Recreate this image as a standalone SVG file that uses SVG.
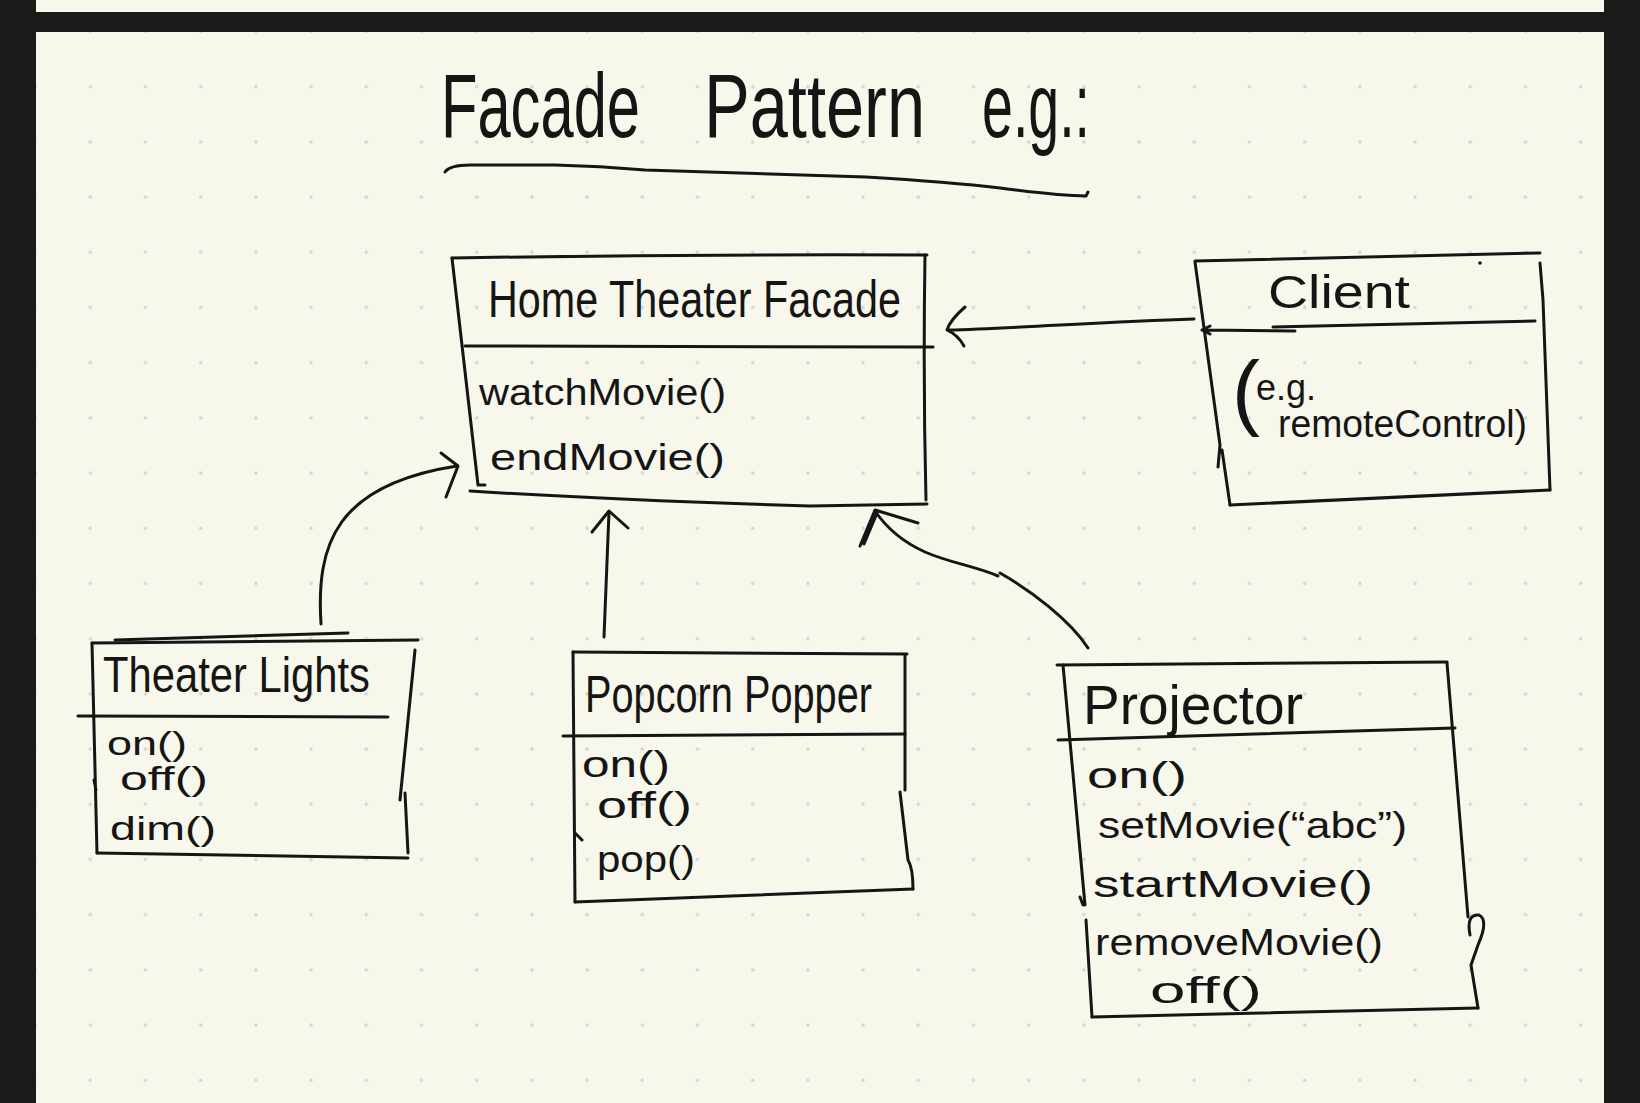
<svg xmlns="http://www.w3.org/2000/svg" width="1640" height="1103" viewBox="0 0 1640 1103">
<style>
.ink{fill:none;stroke:#151515;stroke-width:3;stroke-linecap:round;stroke-linejoin:round}
.t{font-family:"Liberation Sans",Arial,sans-serif;fill:#151515}
.title{font-size:90px}
.name{font-size:52px}
.m{font-size:37px}
</style>
<defs>
<pattern id="dots" x="7.5" y="3.9" width="55.2" height="55.2" patternUnits="userSpaceOnUse">
<circle cx="27.6" cy="27.6" r="1.7" fill="#d3d3cd"/>
</pattern>
</defs>
<rect x="0" y="0" width="1640" height="1103" fill="#1c1a19"/>
<rect x="36" y="0" width="1568" height="12" fill="#f8f7eb"/>
<rect x="36" y="32" width="1568" height="1071" fill="#f8f7eb"/>
<rect x="36" y="32" width="1568" height="1071" fill="url(#dots)"/>

<g id="title">
<text class="t title" transform="translate(441,137) scale(0.663,1)">Facade</text>
<text class="t title" transform="translate(704,137) scale(0.762,1)">Pattern</text>
<text class="t title" transform="translate(982,137) scale(0.617,1)">e.g.:</text>
<path class="ink" d="M445,172 Q450,165 470,165 L555,165 Q600,166 645,170 L866,177 Q950,182 1000,188 Q1060,196 1086,196 L1088,192"/>
</g>

<g id="home-theater-facade">
<path class="ink" d="M452,258 Q690,254 927,255"/>
<path class="ink" d="M452,258 L478,485 L485,485"/>
<path class="ink" d="M470,491 Q610,500 810,506 L927,504"/>
<path class="ink" d="M925,255 Q923,380 926,500"/>
<path class="ink" d="M465,346 L933,347"/>
<text class="t name" x="488" y="317" textLength="413" lengthAdjust="spacingAndGlyphs">Home Theater Facade</text>
<text class="t m" x="479" y="405" textLength="247" lengthAdjust="spacingAndGlyphs">watchMovie()</text>
<text class="t m" x="490" y="470" textLength="235" lengthAdjust="spacingAndGlyphs">endMovie()</text>
</g>

<g id="client">
<path class="ink" d="M1195,261 L1540,253"/>
<path class="ink" d="M1195,262 L1220,445 L1218,467 M1222,450 L1230,505"/>
<path class="ink" d="M1230,505 L1550,490"/>
<path class="ink" d="M1540,263 L1543,300 L1550,490"/>
<path class="ink" d="M1203,330 L1295,331 M1273,327 L1535,321 M1210,326 L1202,330 L1210,334"/>
<circle cx="1480" cy="263" r="1.8" fill="#151515"/>
<text class="t" style="font-size:46px" x="1268" y="308" textLength="142" lengthAdjust="spacingAndGlyphs">Client</text>
<text class="t"><tspan x="1232" y="420" style="font-size:84px">(</tspan><tspan x="1256" y="400" style="font-size:36px">e.g.</tspan></text>
<text class="t" style="font-size:38px" x="1278" y="437" textLength="249" lengthAdjust="spacingAndGlyphs">remoteControl)</text>
</g>

<g id="theater-lights">
<path class="ink" d="M92,643 L418,640"/>
<path class="ink" d="M115,640 L348,633"/>
<path class="ink" d="M92,643 L97,853 M94,780 L96,790"/>
<path class="ink" d="M97,853 L408,858"/>
<path class="ink" d="M415,650 L400,800 M405,793 L408,853"/>
<path class="ink" d="M78,716 L388,717"/>
<text class="t name" style="font-size:50px" x="103" y="692" textLength="267" lengthAdjust="spacingAndGlyphs">Theater Lights</text>
<text class="t m" style="font-size:34px" x="107" y="755" textLength="80" lengthAdjust="spacingAndGlyphs">on()</text>
<text class="t m" style="font-size:34px" x="120" y="790" textLength="88" lengthAdjust="spacingAndGlyphs">off()</text>
<text class="t m" style="font-size:34px" x="110" y="840" textLength="106" lengthAdjust="spacingAndGlyphs">dim()</text>
</g>

<g id="popcorn-popper">
<path class="ink" d="M573,652 L907,654"/>
<path class="ink" d="M573,652 L575,902 M575,833 L582,840"/>
<path class="ink" d="M575,902 L913,889"/>
<path class="ink" d="M905,655 L905,790 M900,792 L908,860 Q913,868 913,889"/>
<path class="ink" d="M563,736 L905,734"/>
<text class="t name" x="585" y="712" textLength="287" lengthAdjust="spacingAndGlyphs">Popcorn Popper</text>
<text class="t m" x="582" y="777" textLength="88" lengthAdjust="spacingAndGlyphs">on()</text>
<text class="t m" x="597" y="818" textLength="95" lengthAdjust="spacingAndGlyphs">off()</text>
<text class="t m" x="597" y="872" textLength="98" lengthAdjust="spacingAndGlyphs">pop()</text>
</g>

<g id="projector">
<path class="ink" d="M1057,665 L1447,662"/>
<path class="ink" d="M1063,665 L1085,905 M1086,920 L1092,1017 M1080,897 L1083,905"/>
<path class="ink" d="M1092,1017 L1478,1008"/>
<path class="ink" d="M1447,663 L1468,917 M1470,935 Q1466,914 1479,915 Q1489,920 1478,945 L1471,965 L1478,1008"/>
<path class="ink" d="M1058,740 L1455,728"/>
<text class="t name" style="font-size:56px" x="1083" y="724" textLength="220" lengthAdjust="spacingAndGlyphs">Projector</text>
<text class="t m" x="1087" y="788" textLength="100" lengthAdjust="spacingAndGlyphs">on()</text>
<text class="t m" x="1098" y="838" textLength="309" lengthAdjust="spacingAndGlyphs">setMovie(“abc”)</text>
<text class="t m" x="1093" y="897" textLength="280" lengthAdjust="spacingAndGlyphs">startMovie()</text>
<text class="t m" x="1095" y="955" textLength="288" lengthAdjust="spacingAndGlyphs">removeMovie()</text>
<text class="t m" x="1150" y="1003" textLength="112" lengthAdjust="spacingAndGlyphs">off()</text>
</g>

<g id="connectors">
<path class="ink" d="M321,624 C316,545 335,485 457,466"/>
<path class="ink" d="M441,453 L458,466 L446,497"/>
<path class="ink" d="M604,637 L609,512"/>
<path class="ink" d="M592,532 L609,511 L628,528"/>
<path class="ink" d="M1088,648 C1070,620 1030,590 1000,573"/>
<path class="ink" d="M998,576 C975,566 950,563 925,552 C905,543 888,530 875,511"/>
<path class="ink" d="M860,546 L875,510 L918,523 M864,544 L877,513"/>
<path class="ink" d="M1194,319 C1100,322 1020,328 948,330"/>
<path class="ink" d="M965,307 Q950,320 947,330 Q958,335 964,346"/>
</g>
</svg>
